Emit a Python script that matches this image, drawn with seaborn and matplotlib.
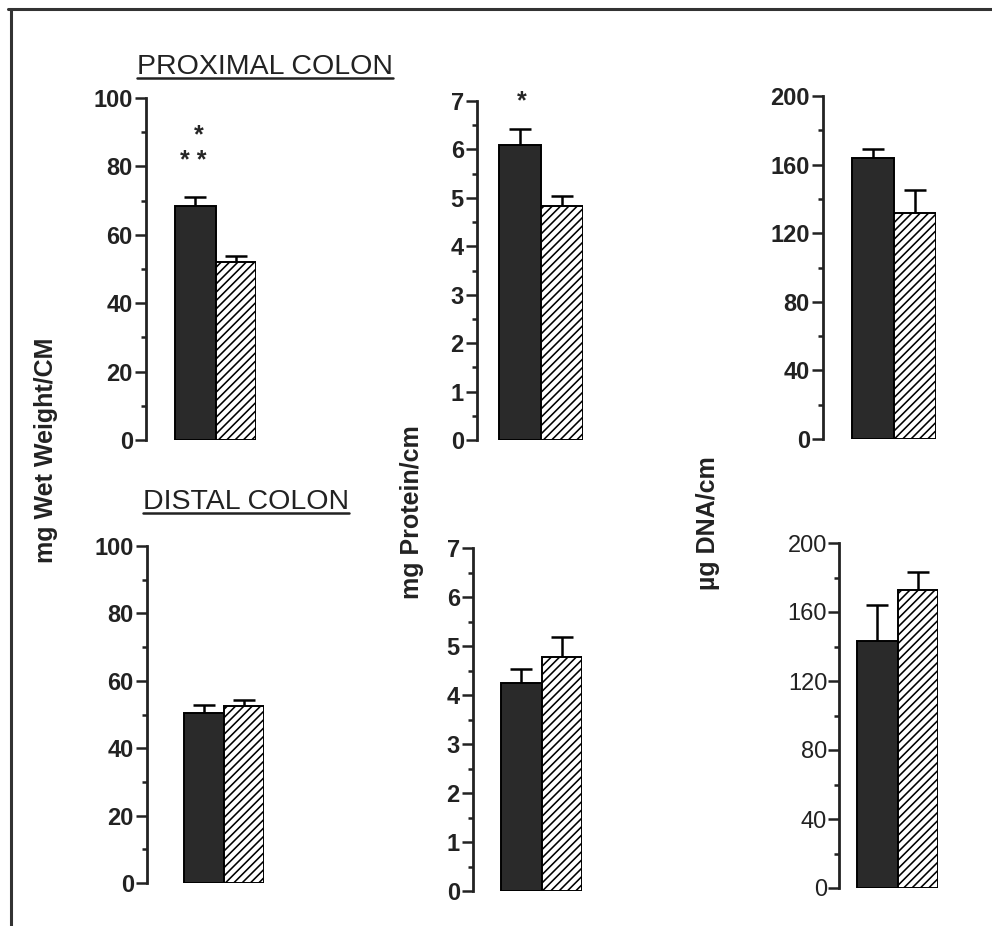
import numpy as np
import pandas as pd
import matplotlib
matplotlib.use('Agg')
import matplotlib.pyplot as plt
import seaborn as sns
from matplotlib.lines import Line2D

# two groups per panel: solid bar, hatched bar
groups = ['solid', 'hatched']

# proximal colon
prox_wet = [68.5, 52.0]
prox_wet_err = [2.6, 1.8]
prox_prot = [6.1, 4.83]
prox_prot_err = [0.32, 0.2]
prox_dna = [164, 132]
prox_dna_err = [5, 13]

# distal colon
dist_wet = [50.5, 52.5]
dist_wet_err = [2.4, 1.8]
dist_prot = [4.24, 4.78]
dist_prot_err = [0.29, 0.4]
dist_dna = [143, 173]
dist_dna_err = [21, 10]

wet_ticks = [0, 20, 40, 60, 80, 100]
prot_ticks = [0, 1, 2, 3, 4, 5, 6, 7]
dna_ticks = [0, 40, 80, 120, 160, 200]

DARK = '#2a2a2a'
W, H = 992, 926

sns.set_style('ticks')
plt.rcParams['font.family'] = ['Liberation Sans', 'DejaVu Sans']
plt.rcParams['hatch.linewidth'] = 1.15

fig = plt.figure(figsize=(W / 100, H / 100), dpi=100)


def panel(box, vals, errs, major, bold=True, pad=1.5):
    # box = spine x, bar left, bar right, y of zero, y of top (pixels)
    sx, bl, br, y0, y1 = box
    ax = fig.add_axes([sx / W, 1 - y0 / H, (br - sx) / W, (y0 - y1) / H])
    df = pd.DataFrame({'group': groups, 'value': vals})
    sns.barplot(data=df, x='group', y='value', hue='group',
                palette=[DARK, 'white'], saturation=1, width=1.0,
                edgecolor='black', linewidth=1.4, legend=False, ax=ax)
    ax.patches[1].set_hatch('////')
    eb = ax.errorbar([0, 1], vals, yerr=[[0, 0], errs], fmt='none',
                     ecolor='black', elinewidth=1.8, capsize=8,
                     capthick=1.8, zorder=0.5)
    eb[1][0].set_visible(False)
    barw = (br - bl) / 2
    ax.set_xlim(-0.5 - (bl - sx) / barw, 1.5)
    ax.set_ylim(major[0], major[-1])
    ax.set_yticks(major)
    step = major[1] - major[0]
    ax.set_yticks(np.array(major[:-1]) + step / 2, minor=True)
    ax.set_xticks([])
    ax.set_xlabel('')
    ax.set_ylabel('')
    sns.despine(ax=ax, bottom=True)
    ax.spines['left'].set_linewidth(2)
    ax.spines['left'].set_color('#222222')
    ax.tick_params(axis='y', which='major', length=8, width=1.8,
                   labelsize=17, pad=pad, colors='#222222')
    ax.tick_params(axis='y', which='minor', length=3.5, width=1.8,
                   colors='#222222')
    for lab in ax.get_yticklabels():
        lab.set_fontweight('bold' if bold else 'normal')
    return ax


ax1 = panel((146, 175, 256, 440, 98), prox_wet, prox_wet_err, wet_ticks)
ax2 = panel((477, 499, 583, 440, 101), prox_prot, prox_prot_err, prot_ticks)
ax3 = panel((823, 852, 936, 439, 96), prox_dna, prox_dna_err, dna_ticks)
ax4 = panel((147, 184, 264, 883, 546), dist_wet, dist_wet_err, wet_ticks)
ax5 = panel((473, 501, 582, 891, 548), dist_prot, dist_prot_err, prot_ticks)
ax6 = panel((839, 857, 938, 888, 543), dist_dna, dist_dna_err, dna_ticks,
            bold=False, pad=0.5)

# significance marks
ax1.text(0.09, 87.0, '*', ha='center', va='baseline', fontsize=18,
         fontweight='bold', clip_on=False)
ax1.text(-0.04, 79.5, '* *', ha='center', va='baseline', fontsize=18,
         fontweight='bold', clip_on=False)
ax2.text(0.05, 6.85, '*', ha='center', va='baseline', fontsize=18,
         fontweight='bold', clip_on=False)

# y labels
fig.text(46 / W, 1 - 450 / H, 'mg Wet Weight/CM', rotation=90, ha='center',
         va='center', fontsize=18, fontweight='bold', color='#222222')
fig.text(412 / W, 1 - 512 / H, 'mg Protein/cm', rotation=90, ha='center',
         va='center', fontsize=18, fontweight='bold', color='#222222')
fig.text(708 / W, 1 - 523 / H, 'µg DNA/cm', rotation=90, ha='center',
         va='center', fontsize=18, fontweight='bold', color='#222222')

# underlined section titles
t1 = fig.text(137 / W, 1 - 74 / H, 'PROXIMAL COLON', ha='left',
              va='baseline', fontsize=20.5, color='#222222')
t2 = fig.text(143 / W, 1 - 509 / H, 'DISTAL COLON', ha='left',
              va='baseline', fontsize=20.5, color='#222222')
fig.canvas.draw()
r = fig.canvas.get_renderer()
for t, uy in [(t1, 78), (t2, 513)]:
    bb = t.get_window_extent(r)
    fig.add_artist(Line2D([bb.x0 / W, bb.x1 / W], [1 - uy / H] * 2,
                          transform=fig.transFigure, lw=1.8, color='#222222'))

# frame: top and left edge
fig.add_artist(Line2D([8 / W, 1], [1 - 9 / H] * 2, transform=fig.transFigure,
                      lw=2.2, color='#333333'))
fig.add_artist(Line2D([11 / W] * 2, [1 - 9 / H, 0], transform=fig.transFigure,
                      lw=2.2, color='#333333'))

fig.savefig('out.png', dpi=100)
